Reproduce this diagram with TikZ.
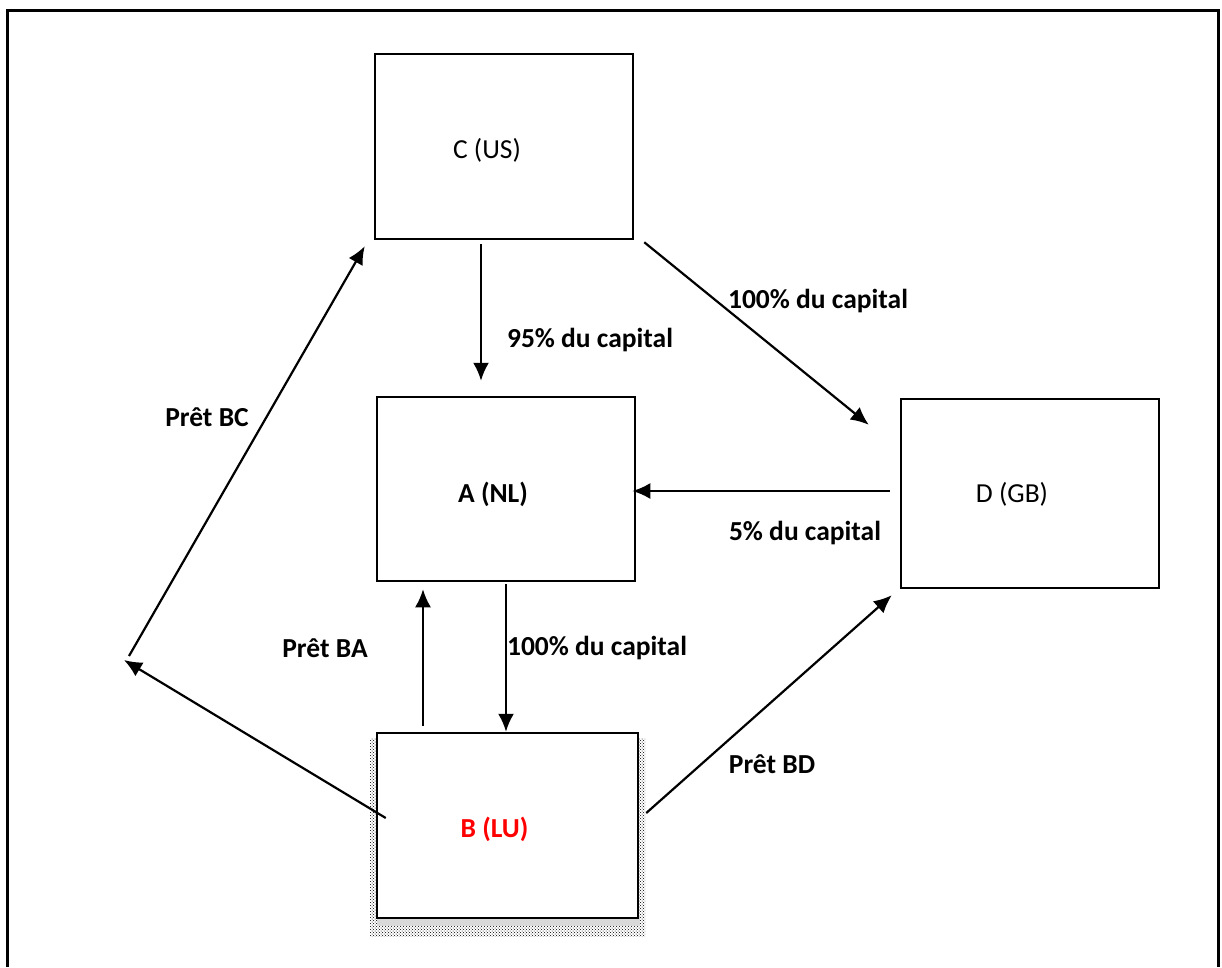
\documentclass[tikz,border=0pt]{standalone}
\usepackage{fontspec}
\setmainfont{Carlito}
\usetikzlibrary{arrows.meta,patterns}

\begin{document}
\begin{tikzpicture}[x=1pt,y=-1pt]
    \useasboundingbox (0,0) rectangle (1222,967);
    \draw [line width=3pt] (7,967) -- (7,10) -- (1218,10) -- (1218,967);

    % fringe under B
    \fill [pattern=crosshatch dots,pattern color=black] (370,738) rectangle (645,936);
    \fill [black!15] (377,916) rectangle (640,926);

    \begin{scope}[every node/.style={rectangle,draw,line width=2.5pt,fill=white,
                  font=\fontsize{27.5}{33}\selectfont}]
      \node [minimum width=258pt,minimum height=185pt,
             label={[xshift=-17pt,yshift=-4pt]center:C (US)}] (C) at (504,146.5) {};
      \node [minimum width=258pt,minimum height=184pt,
             label={[xshift=-13pt,yshift=-5pt,font=\fontsize{27.5}{33}\selectfont\bfseries]center:A (NL)}] (A) at (506,489) {};
      \node [minimum width=258pt,minimum height=189pt,
             label={[xshift=-18pt,yshift=-1pt]center:D (GB)}] (D) at (1030,493.5) {};
      \node [minimum width=261pt,minimum height=185pt,
             label={[xshift=-13pt,yshift=-4pt,text=red,font=\fontsize{27.5}{33}\selectfont\bfseries]center:B (LU)}] (B) at (507.5,825.5) {};
    \end{scope}
    \coordinate (bendBC) at (124,660);

    \begin{scope}[>={Latex[length=18pt,width=16pt]},line width=2.2pt]
      \path [->] ([xshift=-23pt,yshift=-4pt]C.south) edge ([xshift=-25pt,yshift=15pt]A.north);
      \path [->] ([xshift=10pt,yshift=-2pt]C.south east) edge ([xshift=-31pt,yshift=-27pt]D.north west);
      \path [->] ([xshift=-10pt,yshift=2.5pt]D.west) edge ([xshift=-4pt,yshift=-2pt]A.east);
      \path [->] ([yshift=-2pt]A.south) edge ([xshift=-1.5pt]B.north);
      \path [->] ([xshift=-84.5pt,yshift=6pt]B.north) edge ([xshift=-83pt,yshift=-7pt]A.south);
      \path [->] ([xshift=10pt,yshift=7.5pt]B.west) edge (bendBC);
      \path [->] ([xshift=5pt,yshift=4pt]bendBC) edge ([xshift=-9pt,yshift=-6pt]C.south west);
      \path [->] ([xshift=7pt,yshift=12.5pt]B.east) edge ([xshift=-8pt,yshift=-6pt]D.south west);
    \end{scope}

    \begin{scope}[every node/.style={font=\fontsize{27.5}{33}\selectfont\bfseries}]
      \node (capCA) at (590,340) {95\% du capital};
      \node (capCD) at (818,301) {100\% du capital};
      \node (capDA) at (805,533) {5\% du capital};
      \node (capAB) at (597,648) {100\% du capital};
      \node (pretBA) at (325,648) {Prêt BA};
      \node (pretBC) at (207,417) {Prêt BC};
      \node (pretBD) at (772,764) {Prêt BD};
    \end{scope}
  \end{tikzpicture}
\end{document}
